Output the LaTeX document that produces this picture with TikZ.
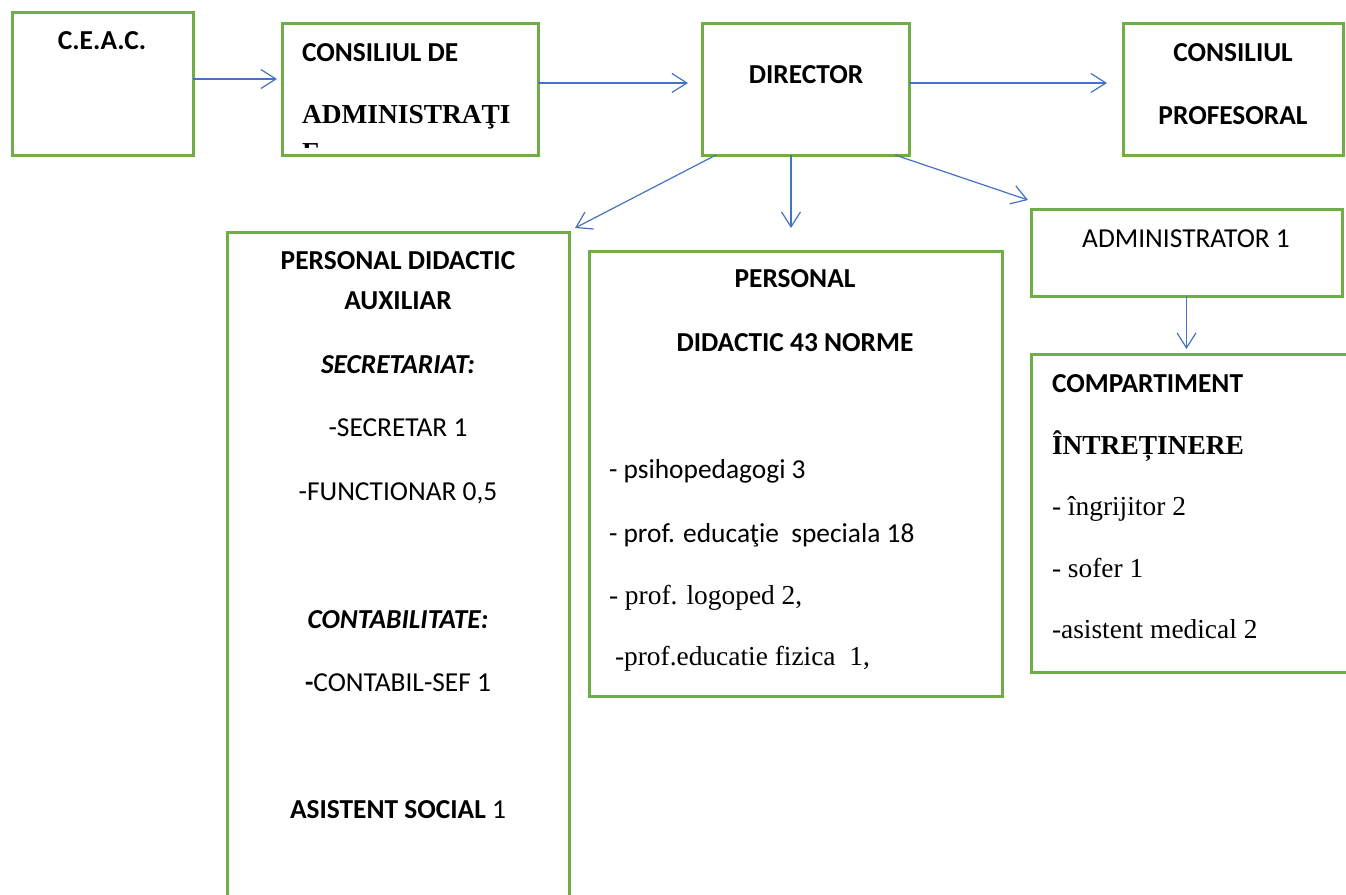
\documentclass[tikz,border=0pt]{standalone}
\usepackage{fontspec}
\usepackage{xcolor}
\usepackage{tikz}
\usetikzlibrary{arrows.meta}
\newfontfamily\carlito{Carlito}
\newfontfamily\tnr{Liberation Serif}
\definecolor{boxgreen}{HTML}{70AD47}
\definecolor{linkblue}{HTML}{4472C4}
\tikzset {
  x=1pt, y=-1pt,
  % green framed boxes
  box/.style = {draw=boxgreen, line width=3pt, rectangle, anchor=north west, inner sep=0pt, outer sep=0pt},
  % thin blue arrows with open tips
  link/.style = {draw=linkblue, line width=1.2pt, -{Straight Barb[length=15pt, width=19pt]}},
  % text lines
  lbl/.style = {inner sep=0pt, outer sep=0pt, anchor=base},
  lblw/.style = {inner sep=0pt, outer sep=0pt, anchor=base west},
  cb/.style = {font=\carlito\bfseries\fontsize{27.4}{33}\selectfont},
  cbi/.style = {font=\carlito\bfseries\itshape\fontsize{27.4}{33}\selectfont},
  cr/.style = {font=\carlito\fontsize{27.4}{33}\selectfont},
  tb/.style = {font=\tnr\bfseries\fontsize{27.4}{33}\selectfont},
  tr/.style = {font=\tnr\fontsize{27.4}{33}\selectfont},
}

\begin{document}
\begin{tikzpicture}
      \useasboundingbox (0,0) rectangle (1346,894);
      \clip (0,0) rectangle (1346,894);

      \node[box, minimum width=181pt, minimum height=143pt] (ceac) at (12,12) {};
      \node[box, minimum width=256pt, minimum height=132pt] (ca) at (282,23) {};
      \node[box, minimum width=207pt, minimum height=132pt] (dir) at (702,23) {};
      \node[box, minimum width=220pt, minimum height=132pt] (cp) at (1123,23) {};

      \node[box, minimum width=342pt, minimum height=700pt] (pda) at (227,232) {};
      \node[box, minimum width=413pt, minimum height=445pt] (pd) at (589,251) {};
      \node[box, minimum width=311pt, minimum height=87pt] (adm) at (1031,209) {};
      \node[box, minimum width=329pt, minimum height=318pt] (comp) at (1031,354) {};

      % top row
      \node[lbl, cb] (ceac1) at (102,49) {C.E.A.C.};
      \node[lblw, cb] (ca1) at (302,61) {CONSILIUL DE};
      \node[lblw, tb] (ca2) at (302,123) {ADMINISTRAŢI};
      \begin{scope}
        \clip (284,25) rectangle (536,147);
        \node[lblw, tb] (ca3) at (302,161) {E};
      \end{scope}
      \node[lbl, cb] (dir1) at (806,83) {DIRECTOR};
      \node[lbl, cb] (cp1) at (1233,61) {CONSILIUL};
      \node[lbl, cb] (cp2) at (1233,124) {PROFESORAL};

      % personal didactic auxiliar
      \node[lbl, cb] (pda1) at (398,269) {PERSONAL DIDACTIC};
      \node[lbl, cb] (pda2) at (398,309) {AUXILIAR};
      \node[lbl, cbi] (pda3) at (398,373) {SECRETARIAT:};
      \node[lbl, cr] (pda4) at (398,436) {-SECRETAR 1};
      \node[lbl, cr] (pda5) at (398,500) {-FUNCTIONAR 0,5};
      \node[lbl, cbi] (pda6) at (398,628) {CONTABILITATE:};
      \node[lbl, cr] (pda7) at (398,691) {\textbf{-}CONTABIL-SEF 1};
      \node[lbl, cr] (pda8) at (398,818) {\textbf{ASISTENT SOCIAL} 1};

      % personal didactic
      \node[lbl, cb] (pd1) at (795,287) {PERSONAL};
      \node[lbl, cb] (pd2) at (795,351) {DIDACTIC 43 NORME};
      \node[lblw, cr] (pd3) at (609,478) {- psihopedagogi 3};
      \node[lblw, cr] (pd4) at (609,542) {- prof. educaţie \ speciala 18};
      \node[lblw, tr] (pd5) at (609,604) {- prof. logoped 2,};
      \node[lblw, tr] (pd6) at (615,665) {-prof.educatie fizica \ 1,};

      % administrator
      \node[lbl, cr] (adm1) at (1186,247) {ADMINISTRATOR 1};
      \node[lblw, cb] (comp1) at (1052,392) {COMPARTIMENT};
      \node[lblw, tb] (comp2) at (1052,454) {ÎNTREȚINERE};
      \node[lblw, tr] (comp3) at (1052,515) {- îngrijitor 2};
      \node[lblw, tr] (comp4) at (1052,577) {- sofer 1};
      \node[lblw, tr] (comp5) at (1052,638) {-asistent medical 2};

      \coordinate (d1) at ([xshift=89pt]dir.south west);

      \draw [link, shorten >=5pt] ([yshift=4.5pt]ceac.east) -- ([yshift=10pt]ca.west);
      \draw [link, shorten >=14pt] ([yshift=6pt]ca.east) -- ([yshift=6pt]dir.west);
      \draw [link, shorten >=16pt] ([yshift=6pt]dir.east) -- ([yshift=6pt]cp.west);
      \draw [link] ([xshift=14pt]dir.south west) -- ([xshift=6pt, yshift=4pt]pda.north east);
      \draw [link, shorten >=23pt] (d1) -- (d1 |- pd.north);
      \draw [link] ([xshift=-14pt]dir.south east) -- ([xshift=-3pt, yshift=9pt]adm.north west);
      \draw [link, shorten >=5pt] (adm.south) -- (adm.south |- comp.north);
    \end{tikzpicture}
\end{document}
